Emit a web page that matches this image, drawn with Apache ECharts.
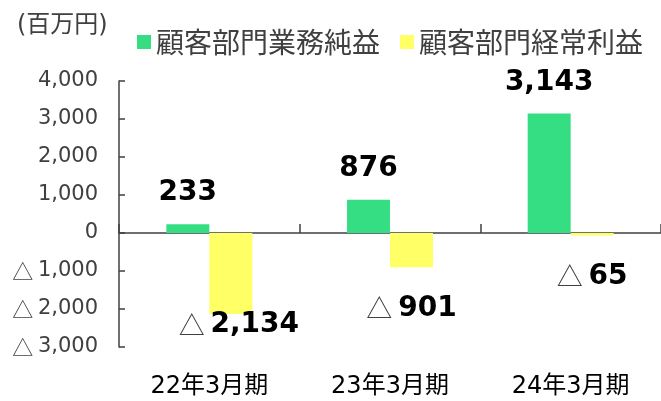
<!DOCTYPE html>
<html>
<head>
<meta charset="utf-8">
<script src="https://cdn.jsdelivr.net/npm/echarts@6/dist/echarts.min.js"></script>
<style>
  html, body { margin: 0; padding: 0; background: #fff; }
  #chart { width: 661px; height: 401px; }
</style>
</head>
<body>
<div id="chart"></div>
<script>
// カテゴリ
var periods = ['22年3月期', '23年3月期', '24年3月期'];
var seriesNames = ['顧客部門業務純益', '顧客部門経常利益'];
// 値（百万円）
var businessProfit = [233, 876, 3143];
var ordinaryProfit = [-2134, -901, -65];
// y軸
var yMin = -3000;
var yMax = 4000;
var yStep = 1000;
var unitLabel = '(百万円)';

var numFont = 'DejaVu Sans';
var triFont = "'Noto Sans CJK JP', sans-serif";
var jpFont = "'DejaVu Sans', 'Noto Sans CJK JP', sans-serif";

// マイナスは△表記
function fmtAxis (v) {
  var s = Math.abs(v).toLocaleString('en-US');
  return v < 0 ? '{t|△ }{n|' + s + '}' : '{n|' + s + '}';
}
function fmtLabel (p) {
  var v = p.value;
  var s = Math.abs(v).toLocaleString('en-US');
  return v < 0 ? '{t|△ }{n|' + s + '}' : '{n|' + s + '}';
}

var labelRich = {
  n: { fontSize: 28, fontWeight: 'bold', color: '#000', fontFamily: numFont },
  t: { fontSize: 26, fontWeight: 'normal', color: '#404040', fontFamily: triFont }
};
var axisRich = {
  n: { fontSize: 21, color: '#404040', fontFamily: numFont },
  t: { fontSize: 21, color: '#404040', fontFamily: triFont }
};

var myChart = echarts.init(document.getElementById('chart'));
myChart.setOption({
  animation: false,
  title: {
    text: unitLabel,
    left: 12,
    top: 9,
    textStyle: { fontSize: 24, fontWeight: 'normal', color: '#404040', fontFamily: jpFont }
  },
  legend: {
    data: seriesNames,
    left: 132,
    top: 23,
    icon: 'rect',
    itemWidth: 14,
    itemHeight: 14,
    itemGap: 20,
    textStyle: { fontSize: 28, color: '#404040', fontFamily: "'Noto Sans CJK JP', sans-serif" }
  },
  grid: {
    left: 119,
    width: 545,
    top: 81,
    bottom: 54
  },
  xAxis: [
    {
      // 下側のラベル用
      type: 'category',
      data: periods,
      position: 'bottom',
      axisLine: { show: false, onZero: false },
      axisTick: { show: false },
      axisLabel: { fontSize: 24, color: '#000', fontFamily: jpFont, margin: 28 }
    },
    {
      // 0の位置の軸線
      type: 'category',
      data: periods,
      position: 'bottom',
      axisLine: { show: true, onZero: true, lineStyle: { color: '#404040', width: 1.5 } },
      axisTick: { show: true, inside: true, length: 9, lineStyle: { color: '#404040', width: 1.5 } },
      axisLabel: { show: false }
    }
  ],
  yAxis: {
    type: 'value',
    min: yMin,
    max: yMax,
    interval: yStep,
    splitLine: { show: false },
    axisLine: { show: true, lineStyle: { color: '#404040', width: 1.5 } },
    axisTick: { show: true, inside: true, length: 6, lineStyle: { color: '#404040', width: 1.5 } },
    axisLabel: { formatter: fmtAxis, rich: axisRich, margin: 21 }
  },
  series: [
    {
      name: seriesNames[0],
      type: 'bar',
      xAxisIndex: 0,
      data: businessProfit,
      barWidth: 43,
      barGap: '0%',
      itemStyle: { color: '#36DE83' },
      label: { show: true, position: 'top', distance: 17, formatter: fmtLabel, rich: labelRich }
    },
    {
      name: seriesNames[1],
      type: 'bar',
      xAxisIndex: 0,
      data: ordinaryProfit.map(function (v, i) {
        // 22年3月期のラベルだけ棒に重ねて右寄せ
        return i === 0 ? { value: v, label: { distance: -3, offset: [8, 0] } } : v;
      }),
      barWidth: 43,
      barGap: '0%',
      itemStyle: { color: '#FFFF66' },
      label: { show: true, position: 'bottom', distance: 27, formatter: fmtLabel, rich: labelRich }
    }
  ]
});
</script>
</body>
</html>
